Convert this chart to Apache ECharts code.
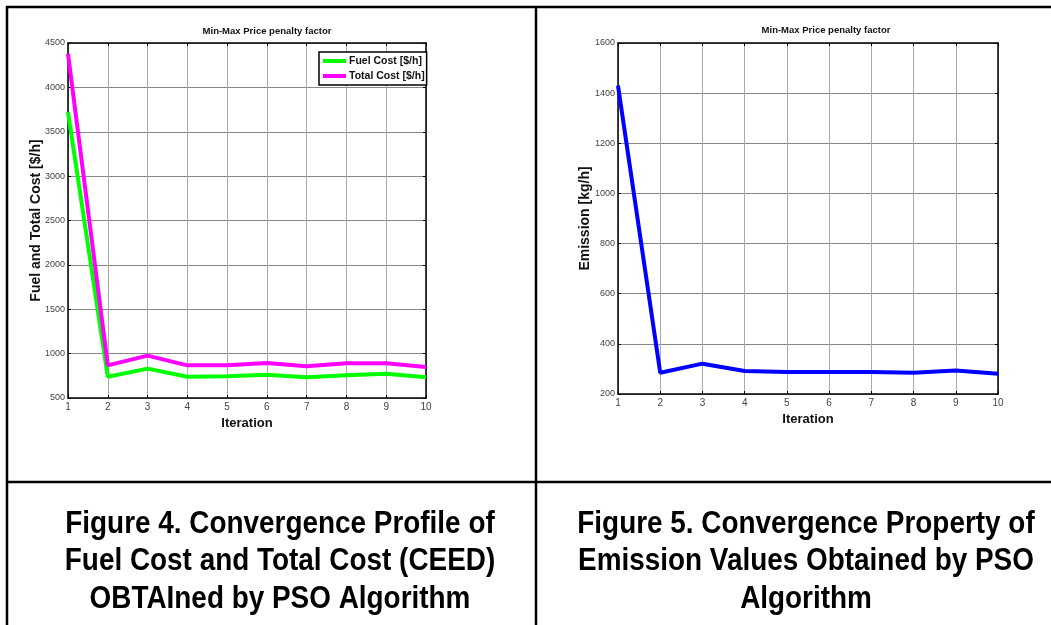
<!DOCTYPE html>
<html>
<head>
<meta charset="utf-8">
<script src="https://cdn.jsdelivr.net/npm/echarts@6/dist/echarts.min.js"></script>
<style>
  html, body { margin: 0; padding: 0; background: #fff; }
  #chart { width: 1051px; height: 625px; }
</style>
</head>
<body>
<div id="chart"></div>
<script>
// values
var iterations = [1, 2, 3, 4, 5, 6, 7, 8, 9, 10];
var fuelCost  = [3720, 740, 831, 740, 744, 763, 733, 755, 774, 733];
var totalCost = [4380, 868, 977, 868, 870, 895, 857, 891, 891, 850];
var emission  = [1430, 285, 321, 292, 288, 288, 288, 285, 294, 281];

var plotTitle = 'Min-Max Price penalty factor';
var captionLeft = ['Figure 4. Convergence Profile of', 'Fuel Cost and Total Cost (CEED)', 'OBTAIned by PSO Algorithm'];
var captionRight = ['Figure 5. Convergence Property of', 'Emission Values Obtained by PSO', 'Algorithm'];

function pairs(ys) {
    return iterations.map(function (x, i) { return [x, ys[i]]; });
}

var font = '"Liberation Sans", Arial, sans-serif';

// bottom / left axes with labels, top / right axes only for the box ticks
function xAxes(gridIndex) {
    return [{
        gridIndex: gridIndex, type: 'value', min: 1, max: 10, interval: 1,
        name: 'Iteration', nameLocation: 'middle', nameGap: 19, nameMoveOverlap: false,
        nameTextStyle: { fontFamily: font, fontWeight: 'bold', fontSize: 13, color: '#111' },
        axisLine: { lineStyle: { color: '#000', width: 1.5 } },
        axisTick: { inside: true, length: 3, lineStyle: { color: '#000' } },
        axisLabel: { fontFamily: font, fontSize: 10, color: '#444', margin: 4 },
        splitLine: { show: true, lineStyle: { color: '#aaa', width: 1 } }
    }, {
        gridIndex: gridIndex, type: 'value', min: 1, max: 10, interval: 1, position: 'top',
        axisLine: { lineStyle: { color: '#000', width: 1.5 } },
        axisTick: { inside: true, length: 3, lineStyle: { color: '#000' } },
        axisLabel: { show: false }, splitLine: { show: false }
    }];
}

function yAxes(gridIndex, name, min, max, step, gap) {
    return [{
        gridIndex: gridIndex, type: 'value', min: min, max: max, interval: step,
        name: name, nameLocation: 'middle', nameGap: gap, nameRotate: 90, nameMoveOverlap: false,
        nameTextStyle: { fontFamily: font, fontWeight: 'bold', fontSize: 14, color: '#111' },
        axisLine: { show: true, lineStyle: { color: '#000', width: 1.5 } },
        axisTick: { show: true, inside: true, length: 3, lineStyle: { color: '#000' } },
        axisLabel: {
            fontFamily: font, fontSize: 9, color: '#444', margin: 3,
            formatter: function (v) { return String(v); }
        },
        splitLine: { show: true, lineStyle: { color: '#888', width: 1 } }
    }, {
        gridIndex: gridIndex, type: 'value', min: min, max: max, interval: step, position: 'right',
        axisLine: { show: true, lineStyle: { color: '#000', width: 1.5 } },
        axisTick: { show: true, inside: true, length: 3, lineStyle: { color: '#000' } },
        axisLabel: { show: false }, splitLine: { show: false }
    }];
}

function captionText(lines, cx) {
    return lines.map(function (t, i) {
        return {
            type: 'text', x: cx, y: 524 + i * 37.5, scaleX: 0.9,
            style: {
                text: t, x: 0, y: 0, align: 'center', verticalAlign: 'middle',
                fontFamily: font, fontWeight: 'bold', fontSize: 31, fill: '#000'
            }
        };
    });
}

var frame = [
    { type: 'line', shape: { x1: 6, y1: 7, x2: 1051, y2: 7 }, style: { stroke: '#000', lineWidth: 2.5 } },
    { type: 'line', shape: { x1: 7, y1: 6, x2: 7, y2: 625 }, style: { stroke: '#000', lineWidth: 2.5 } },
    { type: 'line', shape: { x1: 536, y1: 6, x2: 536, y2: 625 }, style: { stroke: '#000', lineWidth: 2.5 } },
    { type: 'line', shape: { x1: 6, y1: 482, x2: 1051, y2: 482 }, style: { stroke: '#000', lineWidth: 2.5 } }
];

var chart = echarts.init(document.getElementById('chart'));
var option = {
    backgroundColor: '#fff',
    animation: false,
    title: [{
        text: plotTitle, left: 262, top: 21, textAlign: 'center',
        textStyle: { fontFamily: font, fontSize: 9.5, fontWeight: 'bold', color: '#111' }
    }, {
        text: plotTitle, left: 821, top: 20, textAlign: 'center',
        textStyle: { fontFamily: font, fontSize: 9.5, fontWeight: 'bold', color: '#111' }
    }],
    legend: {
        left: 319, top: 52, orient: 'vertical',
        data: ['Fuel Cost [$/h]', 'Total Cost [$/h]'],
        icon: 'rect', itemWidth: 23, itemHeight: 4, itemGap: 3,
        padding: [3, 2, 3, 4],
        borderColor: '#000', borderWidth: 1.5, backgroundColor: '#fff',
        textStyle: { fontFamily: font, fontSize: 10.5, lineHeight: 12, fontWeight: 'bold', color: '#111', padding: [0, 0, 0, -2] }
    },
    grid: [
        { left: 68, top: 43, width: 358, height: 355 },
        { left: 618, top: 43, width: 380, height: 351 }
    ],
    xAxis: xAxes(0).concat(xAxes(1)),
    yAxis: yAxes(0, 'Fuel and Total Cost [$/h]', 500, 4500, 500, 25)
        .concat(yAxes(1, 'Emission [kg/h]', 200, 1600, 200, 26)),
    series: [{
        name: 'Fuel Cost [$/h]', type: 'line', xAxisIndex: 0, yAxisIndex: 0,
        data: pairs(fuelCost), showSymbol: false,
        lineStyle: { color: '#00ff00', width: 4 }, itemStyle: { color: '#00ff00' }
    }, {
        name: 'Total Cost [$/h]', type: 'line', xAxisIndex: 0, yAxisIndex: 0,
        data: pairs(totalCost), showSymbol: false,
        lineStyle: { color: '#ff00ff', width: 4 }, itemStyle: { color: '#ff00ff' }
    }, {
        name: 'Emission [kg/h]', type: 'line', xAxisIndex: 2, yAxisIndex: 2,
        data: pairs(emission), showSymbol: false,
        lineStyle: { color: '#0000ff', width: 4 }, itemStyle: { color: '#0000ff' }
    }],
    graphic: frame.concat(captionText(captionLeft, 280), captionText(captionRight, 806))
};
chart.setOption(option);
</script>
</body>
</html>
